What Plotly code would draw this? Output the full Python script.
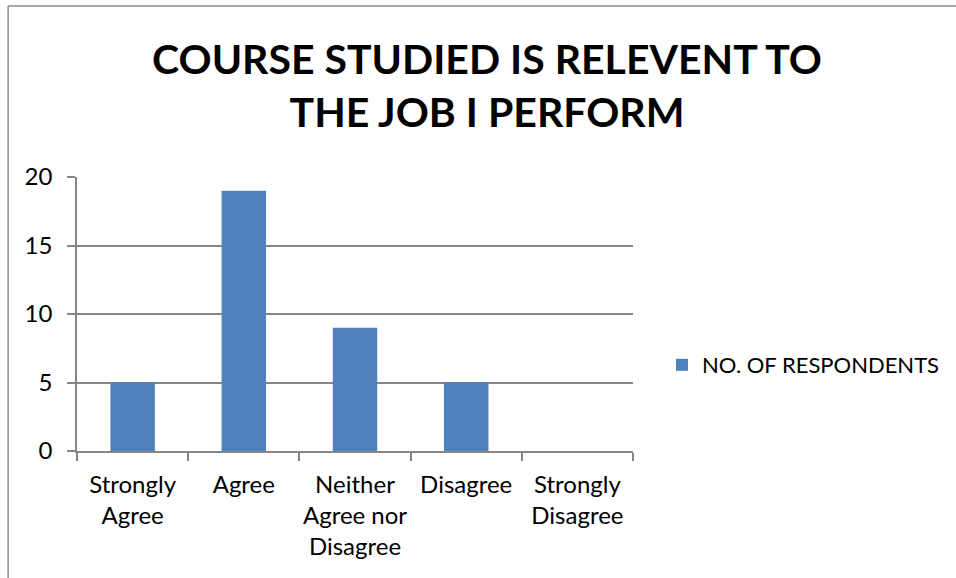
import plotly.graph_objects as go

categories = ["Strongly<br>Agree", "Agree", "Neither<br>Agree nor<br>Disagree", "Disagree", "Strongly<br>Disagree"]
respondents = [5, 19, 9, 5, 0]
series_name = "NO. OF RESPONDENTS"
title_text = "COURSE STUDIED IS RELEVENT TO<br>THE JOB I PERFORM"
y_ticks = [0, 5, 10, 15, 20]

W, H = 956, 578
L, R, T, B = 77, 322, 177, 127
pw, ph = W - L - R, H - T - B

def px_x(x):
    return (x - L) / pw

def px_y(y):
    return (H - B - y) / ph

FONT = "Lato"
GRID = "#868686"

fig = go.Figure()
fig.add_trace(go.Bar(
    x=categories, y=respondents, name=series_name,
    marker=dict(color="#4F81BD", line=dict(width=0)),
    showlegend=True,
))

fig.update_layout(
    width=W, height=H,
    margin=dict(l=L, r=R, t=T, b=B, pad=0),
    paper_bgcolor="white", plot_bgcolor="white",
    bargap=0.6,
    font=dict(family=FONT, color="black", size=24),
    title=dict(
        text="<b>" + title_text + "</b>",
        x=487 / W, xanchor="center", xref="container",
        y=1 - 74 / H, yanchor="middle", yref="container",
        font=dict(family=FONT, size=41, color="black"),
    ),
    showlegend=True,
    legend=dict(
        x=px_x(662), xanchor="left", xref="paper",
        y=px_y(365), yanchor="middle", yref="paper",
        font=dict(family=FONT, size=22, color="black"),
        bgcolor="rgba(0,0,0,0)",
        itemwidth=30,
    ),
    xaxis=dict(
        type="category",
        showgrid=False,
        showline=True, linecolor=GRID, linewidth=1.5,
        ticks="outside", tickson="boundaries", ticklen=8, tickcolor=GRID, tickwidth=1.5,
        tickfont=dict(family=FONT, size=24, color="black"),
        tickangle=0,
        ticklabelstandoff=11,
    ),
    yaxis=dict(
        range=[0, 20], tickvals=y_ticks,
        showgrid=True, gridcolor=GRID, gridwidth=1.5,
        showline=True, linecolor=GRID, linewidth=1.5,
        ticks="outside", ticklen=8, tickcolor=GRID, tickwidth=1.5,
        tickfont=dict(family=FONT, size=24, color="black"),
        zeroline=False,
        ticklabelstandoff=10,
    ),
    shapes=[
        dict(type="line", xref="paper", yref="paper",
             x0=px_x(8), x1=px_x(8), y0=px_y(6), y1=px_y(600),
             line=dict(color="#8c8c8c", width=1.5)),
        dict(type="line", xref="paper", yref="paper",
             x0=px_x(8), x1=px_x(1000), y0=px_y(6), y1=px_y(6),
             line=dict(color="#8c8c8c", width=1.5)),
    ],
)

fig.write_html("out.html", config={"displayModeBar": False},
               post_script="document.body.style.margin='0';")
